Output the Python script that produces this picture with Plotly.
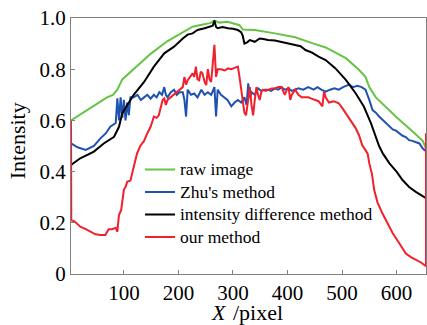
import plotly.graph_objects as go

# ---- data ----
raw_x = [3, 32, 69, 80, 88, 97, 118, 149, 180, 211,
         226, 245, 258, 266, 275, 290, 305, 312, 318, 340,
         377, 414, 448, 470, 507, 530, 543, 550, 562, 599,
         630, 648, 654]
raw_y = [0.60, 0.64, 0.69, 0.70, 0.72, 0.76, 0.80, 0.86, 0.91, 0.95,
         0.966, 0.975, 0.98, 0.99, 0.982, 0.985, 0.978, 0.972, 0.955, 0.953,
         0.94, 0.925, 0.90, 0.885, 0.843, 0.80, 0.77, 0.73, 0.69, 0.614,
         0.556, 0.52, 0.49]

zhu_x = [3, 15, 30, 45, 57, 67, 75, 85, 88, 91,
         94, 97, 100, 103, 106, 109, 112, 118, 125, 131,
         137, 143, 149, 155, 160, 165, 170, 174, 177, 180,
         186, 192, 197, 202, 208, 211, 214, 217, 223, 229,
         235, 242, 248, 254, 260, 266, 269, 272, 278, 284,
         290, 297, 303, 309, 315, 321, 325, 328, 331, 334,
         340, 346, 352, 358, 364, 370, 377, 383, 389, 395,
         402, 408, 414, 420, 429, 438, 448, 455, 462, 470,
         478, 486, 494, 502, 513, 520, 528, 536, 543, 547,
         550, 556, 562, 568, 575, 581, 587, 593, 599, 605,
         611, 617, 623, 629, 635, 642, 648, 654]
zhu_y = [0.51, 0.495, 0.485, 0.50, 0.53, 0.55, 0.575, 0.59, 0.686, 0.60,
         0.69, 0.61, 0.68, 0.60, 0.67, 0.62, 0.69, 0.69, 0.70, 0.68,
         0.69, 0.70, 0.685, 0.70, 0.69, 0.71, 0.70, 0.73, 0.70, 0.69,
         0.71, 0.72, 0.70, 0.71, 0.71, 0.68, 0.615, 0.72, 0.70, 0.705,
         0.69, 0.72, 0.70, 0.71, 0.70, 0.73, 0.615, 0.72, 0.70, 0.69,
         0.68, 0.655, 0.67, 0.68, 0.67, 0.69, 0.66, 0.745, 0.69, 0.71,
         0.70, 0.725, 0.715, 0.72, 0.72, 0.715, 0.725, 0.72, 0.73, 0.72,
         0.725, 0.715, 0.72, 0.725, 0.72, 0.73, 0.72, 0.73, 0.72, 0.712,
         0.72, 0.725, 0.72, 0.73, 0.74, 0.73, 0.735, 0.73, 0.72, 0.70,
         0.68, 0.64, 0.63, 0.615, 0.60, 0.59, 0.575, 0.565, 0.56, 0.55,
         0.54, 0.535, 0.523, 0.52, 0.515, 0.51, 0.49, 0.48]

idm_x = [3, 20, 45, 63, 82, 91, 97, 106, 118, 137,
         155, 174, 192, 208, 217, 226, 235, 248, 257, 263,
         266, 269, 272, 281, 291, 300, 309, 315, 318, 321,
         326, 331, 340, 349, 356, 364, 377, 389, 402, 414,
         424, 433, 445, 457, 470, 488, 507, 525, 540, 553,
         562, 568, 575, 587, 600, 611, 623, 636, 654]
idm_y = [0.426, 0.452, 0.478, 0.51, 0.536, 0.575, 0.628, 0.66, 0.70, 0.75,
         0.81, 0.862, 0.888, 0.92, 0.935, 0.94, 0.953, 0.96, 0.966, 0.97,
         0.99, 0.965, 0.96, 0.965, 0.96, 0.958, 0.953, 0.945, 0.93, 0.90,
         0.905, 0.914, 0.907, 0.92, 0.918, 0.914, 0.912, 0.907, 0.90, 0.895,
         0.89, 0.875, 0.865, 0.849, 0.836, 0.803, 0.758, 0.706, 0.654, 0.589,
         0.536, 0.50, 0.47, 0.432, 0.40, 0.367, 0.34, 0.32, 0.296]

our_x = [3, 3.5, 10, 20, 30, 38, 48, 57, 66, 72,
         78, 85, 88, 90, 91, 95, 100, 103, 106, 112,
         118, 124, 130, 137, 143, 149, 155, 160, 164, 168,
         171, 174, 177, 180, 186, 192, 198, 204, 208, 211,
         214, 217, 221, 226, 229, 232, 235, 238, 241, 244,
         248, 251, 254, 257, 260, 266, 269, 272, 278, 285,
         291, 297, 303, 309, 312, 315, 318, 321, 324, 327,
         331, 334, 337, 340, 343, 346, 349, 352, 355, 360,
         366, 371, 377, 383, 389, 395, 399, 402, 405, 408,
         414, 420, 426, 432, 438, 444, 451, 457, 464, 467,
         470, 476, 485, 494, 500, 507, 513, 519, 525, 531,
         537, 543, 547, 550, 555, 559, 565, 574, 583, 593,
         605, 617, 627, 636, 645, 651, 654, 654]
our_y = [0.60, 0.21, 0.205, 0.185, 0.175, 0.165, 0.155, 0.152, 0.152, 0.175,
         0.175, 0.18, 0.165, 0.21, 0.23, 0.25, 0.33, 0.34, 0.36, 0.365,
         0.42, 0.47, 0.50, 0.52, 0.55, 0.575, 0.615, 0.61, 0.62, 0.66,
         0.68, 0.686, 0.66, 0.68, 0.69, 0.70, 0.71, 0.72, 0.73, 0.77,
         0.74, 0.757, 0.77, 0.784, 0.77, 0.81, 0.76, 0.757, 0.79, 0.784,
         0.75, 0.738, 0.80, 0.76, 0.75, 0.895, 0.77, 0.80, 0.80, 0.795,
         0.803, 0.80, 0.805, 0.81, 0.77, 0.72, 0.68, 0.63, 0.62, 0.66,
         0.73, 0.66, 0.62, 0.68, 0.73, 0.70, 0.68, 0.71, 0.72, 0.715,
         0.72, 0.725, 0.725, 0.73, 0.73, 0.70, 0.72, 0.73, 0.68, 0.70,
         0.72, 0.70, 0.69, 0.69, 0.69, 0.685, 0.68, 0.675, 0.655, 0.712,
         0.69, 0.67, 0.675, 0.667, 0.65, 0.628, 0.61, 0.589, 0.57, 0.543,
         0.504, 0.484, 0.47, 0.432, 0.39, 0.328, 0.28, 0.237, 0.20, 0.159,
         0.12, 0.08, 0.065, 0.055, 0.045, 0.035, 0.03, 0.55]

series_names = ["raw image", "Zhu's method", "intensity difference method", "our method"]
series_colors = ["#66c445", "#1f52b0", "#000000", "#f0202c"]

x_ticks = [100, 200, 300, 400, 500, 600]
y_ticks = [0, 0.2, 0.4, 0.6, 0.8, 1.0]
y_tick_text = ["0", "0.2", "0.4", "0.6", "0.8", "1.0"]
x_title_var = "<i>X</i>"
x_title_unit = "/pixel"
y_title = "Intensity"

FONT = "Liberation Serif"
TITLE_SIZE = 22

fig = go.Figure()
for (xs, ys), name, color in zip(
        [(raw_x, raw_y), (zhu_x, zhu_y), (idm_x, idm_y), (our_x, our_y)],
        series_names, series_colors):
    assert len(xs) == len(ys), name
    fig.add_trace(go.Scatter(
        x=xs, y=ys, mode="lines",
        name="<span style='font-size:17.5px'>" + name + "</span>",
        line=dict(color=color, width=2)))

fig.update_layout(
    width=427, height=325,
    margin=dict(l=71, r=1, t=18, b=51, autoexpand=False),
    paper_bgcolor="white", plot_bgcolor="white",
    font=dict(family=FONT, color="black", size=21),
    showlegend=True,
    legend=dict(x=0.1944, y=0.472, xanchor="left", yanchor="top",
                bgcolor="rgba(0,0,0,0)", borderwidth=0,
                font=dict(family=FONT, size=15, color="black"),
                itemwidth=30, tracegroupgap=0),
    annotations=[
        dict(text=x_title_var, xref="paper", yref="paper", x=0.4423, y=-0.152,
             xanchor="right", yanchor="middle", showarrow=False, borderpad=0,
             font=dict(family=FONT, size=TITLE_SIZE)),
        dict(text=x_title_unit, xref="paper", yref="paper", x=0.4535, y=-0.152,
             xanchor="left", yanchor="middle", showarrow=False, borderpad=0,
             font=dict(family=FONT, size=TITLE_SIZE)),
        dict(text=y_title, xref="paper", yref="paper", x=-0.151, y=0.52,
             xanchor="center", yanchor="middle", showarrow=False, textangle=-90,
             borderpad=0, font=dict(family=FONT, size=TITLE_SIZE)),
    ],
)
fig.update_xaxes(
    range=[3, 654], tickvals=x_ticks, ticks="inside", ticklen=4,
    tickcolor="#808080", showline=True, linecolor="#808080", linewidth=1,
    mirror=True, showgrid=False, zeroline=False, automargin=False,
    tickfont=dict(family=FONT, size=21),
)
fig.update_yaxes(
    range=[0, 1.0], tickvals=y_ticks, ticktext=y_tick_text, ticks="inside",
    ticklen=4, tickcolor="#808080", showline=True, linecolor="#808080",
    linewidth=1, mirror=True, showgrid=False, zeroline=False, automargin=False,
    tickfont=dict(family=FONT, size=21),
)

fig.write_html("out.html", config={"displayModeBar": False},
               post_script="document.body.style.margin='0';document.body.style.overflow='hidden';")
